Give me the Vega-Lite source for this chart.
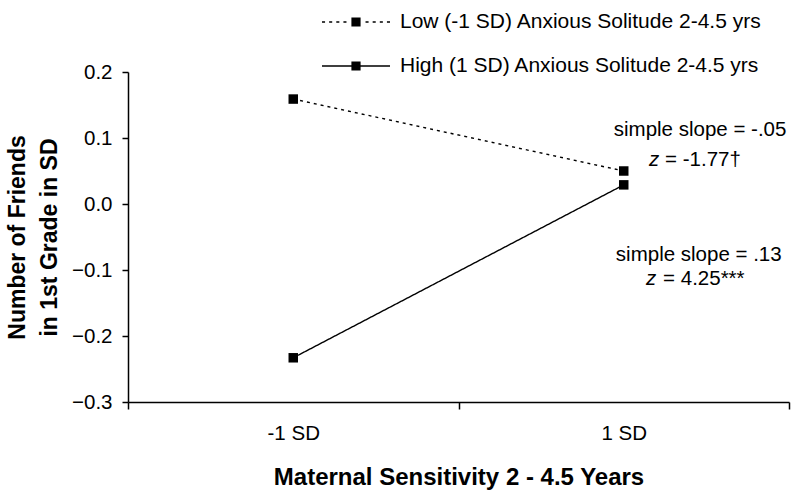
{
  "$schema": "https://vega.github.io/schema/vega-lite/v6.json",
  "width": 661,
  "height": 330,
  "autosize": "none",
  "padding": {"left": 128, "top": 72, "right": 11, "bottom": 98},
  "background": "white",
  "config": {
    "view": {"stroke": null},
    "font": "Liberation Sans",
    "axis": {"domainColor": "black", "tickColor": "black", "domainWidth": 1.5, "tickWidth": 1.5, "labelColor": "black", "titleColor": "black", "grid": false, "labelFont": "Liberation Sans", "titleFont": "Liberation Sans"}
  },
  "datasets": {
    "lines": [
      {"ms": 0.5, "group": "Low (-1 SD) Anxious Solitude 2-4.5 yrs", "friends": 0.159},
      {"ms": 1.5, "group": "Low (-1 SD) Anxious Solitude 2-4.5 yrs", "friends": 0.05},
      {"ms": 0.5, "group": "High (1 SD) Anxious Solitude 2-4.5 yrs", "friends": -0.233},
      {"ms": 1.5, "group": "High (1 SD) Anxious Solitude 2-4.5 yrs", "friends": 0.029}
    ],
    "slopes": [
      {"ms": 1.731, "friends": 0.112, "label": "simple slope = -.05"},
      {"ms": 1.727, "friends": -0.078, "label": "simple slope = .13"}
    ],
    "zs": [
      {"ms": 1.592, "friends": 0.067, "label": "z"},
      {"ms": 1.583, "friends": -0.114, "label": "z"}
    ],
    "zvals": [
      {"ms": 1.625, "friends": 0.067, "label": "= -1.77†"},
      {"ms": 1.619, "friends": -0.114, "label": "= 4.25***"}
    ]
  },
  "layer": [
    {
      "data": {"name": "lines"},
      "mark": {"type": "line", "color": "black", "strokeWidth": 1.4},
      "encoding": {
        "x": {
          "field": "ms", "type": "quantitative",
          "scale": {"domain": [0, 2], "nice": false, "zero": false},
          "axis": {
            "values": [0, 0.5, 1, 1.5, 2],
            "labelExpr": "datum.value == 0.5 ? '-1 SD' : (datum.value == 1.5 ? '1 SD' : '')",
            "tickOpacity": {"condition": {"test": "datum.value == 0.5 || datum.value == 1.5", "value": 0}, "value": 1},
            "tickSize": 7,
            "labelFontSize": 20.5,
            "labelPadding": 14,
            "title": "Maternal Sensitivity 2 - 4.5 Years",
            "titleFontSize": 24,
            "titleFontWeight": "bold",
            "titlePadding": 22
          }
        },
        "y": {
          "field": "friends", "type": "quantitative",
          "scale": {"domain": [-0.3, 0.2], "nice": false, "zero": false},
          "axis": {
            "values": [-0.3, -0.2, -0.1, 0, 0.1, 0.2],
            "format": ".1f",
            "tickSize": 6,
            "labelFontSize": 20.5,
            "labelPadding": 10,
            "title": ["Number of Friends", "in 1st Grade in SD"],
            "titleFontSize": 23,
            "titleFontWeight": "bold",
            "titleLineHeight": 32,
            "titlePadding": 10
          }
        },
        "strokeDash": {
          "field": "group", "type": "nominal",
          "scale": {"domain": ["Low (-1 SD) Anxious Solitude 2-4.5 yrs", "High (1 SD) Anxious Solitude 2-4.5 yrs"], "range": [[3, 4], [1, 0]]},
          "legend": {
            "orient": "none",
            "legendX": 194,
            "legendY": -84,
            "title": null,
            "padding": 0,
            "symbolType": "M-1,-0.021H1V0.021H-1ZM-0.135,-0.135H0.135V0.135H-0.135Z",
            "symbolSize": 4624,
            "symbolStrokeWidth": 0,
            "symbolStrokeColor": "black",
            "symbolFillColor": "black",
            "labelFontSize": 21,
            "labelColor": "black",
            "labelOffset": 10,
            "labelLimit": 500,
            "rowPadding": -21,
            "symbolLimit": 10,
            "encode": {
              "symbols": {
                "update": {
                  "shape": {"signal": "indexof(datum.label, 'Low') == 0 ? 'M-1,-0.021H-0.91V0.021H-1ZM-0.79,-0.021H-0.70V0.021H-0.79ZM-0.58,-0.021H-0.49V0.021H-0.58ZM-0.37,-0.021H-0.28V0.021H-0.37ZM0.28,-0.021H0.37V0.021H0.28ZM0.49,-0.021H0.58V0.021H0.49ZM0.70,-0.021H0.79V0.021H0.70ZM0.91,-0.021H1V0.021H0.91ZM-0.135,-0.135H0.135V0.135H-0.135Z' : 'M-1,-0.021H1V0.021H-1ZM-0.135,-0.135H0.135V0.135H-0.135Z'"},
                  "strokeWidth": {"value": 0},
                  "fill": {"value": "black"},
                  "fillOpacity": {"value": 1}
                }
              }
            }
          }
        }
      }
    },
    {
      "data": {"name": "lines"},
      "mark": {"type": "point", "shape": "square", "filled": true, "color": "black", "opacity": 1, "size": 90},
      "encoding": {
        "x": {"field": "ms", "type": "quantitative"},
        "y": {"field": "friends", "type": "quantitative"}
      }
    },
    {
      "data": {"name": "slopes"},
      "mark": {"type": "text", "fontSize": 20.5, "align": "center", "baseline": "middle", "color": "black"},
      "encoding": {
        "x": {"field": "ms", "type": "quantitative"},
        "y": {"field": "friends", "type": "quantitative"},
        "text": {"field": "label"}
      }
    },
    {
      "data": {"name": "zs"},
      "mark": {"type": "text", "fontSize": 20.5, "fontStyle": "italic", "align": "center", "baseline": "middle", "color": "black"},
      "encoding": {
        "x": {"field": "ms", "type": "quantitative"},
        "y": {"field": "friends", "type": "quantitative"},
        "text": {"field": "label"}
      }
    },
    {
      "data": {"name": "zvals"},
      "mark": {"type": "text", "fontSize": 20.5, "align": "left", "baseline": "middle", "color": "black"},
      "encoding": {
        "x": {"field": "ms", "type": "quantitative"},
        "y": {"field": "friends", "type": "quantitative"},
        "text": {"field": "label"}
      }
    }
  ]
}
